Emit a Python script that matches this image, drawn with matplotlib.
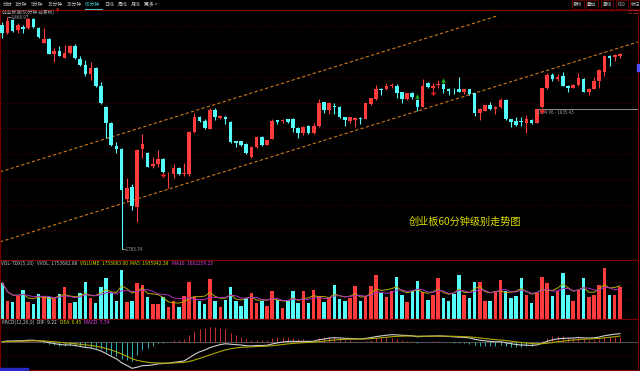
import numpy as np
import pandas as pd
import matplotlib
matplotlib.use('Agg')
import matplotlib.pyplot as plt
from matplotlib.patches import Rectangle
from matplotlib.lines import Line2D

plt.rcParams['font.family'] = ['Noto Sans CJK SC', 'DejaVu Sans']

# 创业板指 60分钟 K线 (open, high, low, close)
opens = [1865.9, 1862.9, 1867.7, 1864.1, 1865.3, 1864.7, 1868.0, 1864.7, 1859.2, 1860.7,
         1855.2, 1856.5, 1853.7, 1855.5, 1858.2, 1853.4, 1851.2, 1847.8, 1850.2, 1843.5,
         1835.9, 1829.8, 1821.6, 1820.4, 1801.9, 1806.3, 1799.2, 1820.3, 1818.8, 1814.2,
         1814.9, 1816.7, 1811.1, 1811.1, 1813.5, 1811.2, 1811.2, 1826.7, 1832.0, 1830.8,
         1827.7, 1834.7, 1831.8, 1832.3, 1830.4, 1823.3, 1823.3, 1822.1, 1817.4, 1821.0,
         1824.9, 1821.9, 1824.1, 1830.9, 1830.6, 1831.3, 1831.3, 1828.2, 1826.2, 1828.8,
         1826.4, 1828.8, 1837.5, 1834.7, 1836.3, 1835.9, 1832.0, 1830.8, 1831.2, 1831.8,
         1831.4, 1836.9, 1838.7, 1842.4, 1842.3, 1843.5, 1843.5, 1841.2, 1838.7, 1840.8,
         1838.4, 1835.9, 1844.5, 1842.9, 1843.8, 1844.1, 1842.4, 1841.8, 1842.3, 1841.3,
         1842.3, 1840.8, 1833.5, 1834.5, 1836.5, 1835.1, 1835.7, 1838.4, 1831.3, 1830.7,
         1830.7, 1830.1, 1831.0, 1830.1, 1835.7, 1842.7, 1847.6, 1846.0, 1847.2, 1843.6,
         1842.9, 1843.9, 1846.1, 1841.2, 1842.4, 1845.4, 1848.8, 1854.5, 1854.1, 1854.5]
highs = [1867.1, 1869.0, 1868.0, 1866.5, 1865.9, 1868.4, 1868.4, 1865.3, 1864.7, 1861.0,
         1857.4, 1858.2, 1858.6, 1858.6, 1858.8, 1854.6, 1853.1, 1852.4, 1850.4, 1845.1,
         1836.2, 1830.4, 1823.1, 1820.7, 1809.6, 1807.6, 1820.3, 1825.9, 1819.4, 1817.6,
         1820.0, 1817.0, 1812.1, 1814.9, 1813.9, 1815.4, 1827.0, 1833.5, 1832.5, 1831.3,
         1835.3, 1835.3, 1832.9, 1832.5, 1830.8, 1823.3, 1823.4, 1822.5, 1821.5, 1825.2,
         1825.2, 1823.7, 1831.3, 1831.0, 1831.3, 1831.5, 1831.7, 1828.6, 1828.8, 1829.2,
         1830.1, 1838.6, 1837.8, 1837.5, 1837.4, 1836.2, 1832.3, 1832.3, 1832.0, 1832.0,
         1837.4, 1839.2, 1843.9, 1842.7, 1844.7, 1844.7, 1844.3, 1841.4, 1841.1, 1841.3,
         1838.6, 1846.1, 1844.9, 1844.5, 1845.7, 1844.7, 1842.7, 1842.7, 1846.7, 1842.4,
         1842.4, 1841.1, 1835.3, 1836.7, 1837.5, 1836.2, 1839.0, 1838.6, 1831.5, 1832.0,
         1832.0, 1832.9, 1831.3, 1835.2, 1842.9, 1848.2, 1848.2, 1847.9, 1848.8, 1843.9,
         1844.1, 1848.2, 1846.3, 1842.7, 1846.9, 1849.7, 1854.9, 1854.9, 1855.2, 1855.5]
lows = [1861.0, 1862.6, 1863.5, 1863.1, 1862.9, 1864.4, 1864.7, 1861.0, 1859.2, 1855.2,
        1852.4, 1854.6, 1853.7, 1855.3, 1853.4, 1851.0, 1847.3, 1845.7, 1843.3, 1836.8,
        1824.3, 1821.6, 1818.8, 1783.74, 1801.1, 1798.0, 1793.5, 1817.0, 1813.7, 1813.3,
        1813.9, 1811.7, 1806.0, 1809.6, 1810.9, 1810.6, 1810.6, 1826.4, 1830.4, 1827.7,
        1827.6, 1831.0, 1831.3, 1829.6, 1822.5, 1821.0, 1821.5, 1818.6, 1817.0, 1820.8,
        1821.5, 1821.8, 1824.0, 1829.6, 1830.1, 1830.1, 1826.7, 1824.5, 1825.5, 1825.9,
        1825.9, 1828.6, 1833.7, 1833.2, 1833.2, 1831.7, 1828.8, 1830.1, 1828.6, 1829.6,
        1831.3, 1836.5, 1838.4, 1840.2, 1842.1, 1842.8, 1839.0, 1837.4, 1838.5, 1838.6,
        1834.5, 1835.7, 1842.7, 1842.1, 1842.7, 1841.1, 1840.2, 1840.6, 1841.2, 1840.5,
        1840.2, 1832.5, 1831.0, 1834.2, 1834.7, 1833.2, 1835.4, 1831.0, 1828.4, 1828.8,
        1828.8, 1826.4, 1829.6, 1829.8, 1835.4, 1842.3, 1845.5, 1845.5, 1843.5, 1841.4,
        1842.7, 1843.6, 1841.2, 1840.2, 1842.3, 1842.7, 1847.2, 1850.9, 1852.8, 1853.7]
closes = [1862.9, 1867.5, 1863.8, 1865.9, 1864.6, 1868.0, 1865.1, 1861.4, 1860.8, 1855.3,
          1856.4, 1854.6, 1855.5, 1858.3, 1853.7, 1851.2, 1847.8, 1850.2, 1843.5, 1837.2,
          1829.8, 1821.9, 1820.4, 1805.4, 1806.2, 1799.5, 1820.0, 1822.2, 1813.9, 1814.9,
          1816.7, 1812.1, 1811.3, 1813.3, 1811.1, 1811.5, 1826.7, 1832.3, 1830.8, 1828.2,
          1834.7, 1832.0, 1832.5, 1831.3, 1823.1, 1822.7, 1821.9, 1819.0, 1821.0, 1824.9,
          1821.9, 1823.6, 1830.8, 1830.4, 1831.0, 1830.4, 1828.0, 1826.2, 1828.6, 1826.2,
          1828.8, 1837.4, 1834.7, 1837.3, 1835.7, 1832.0, 1831.0, 1832.0, 1831.8, 1831.4,
          1837.2, 1839.0, 1842.3, 1842.1, 1843.5, 1843.9, 1840.8, 1838.7, 1840.8, 1839.4,
          1835.9, 1843.6, 1843.0, 1843.5, 1844.1, 1842.4, 1841.8, 1841.6, 1841.4, 1842.3,
          1840.5, 1833.7, 1835.0, 1836.4, 1835.0, 1835.9, 1838.4, 1831.3, 1830.4, 1829.2,
          1830.4, 1831.3, 1830.1, 1835.0, 1842.7, 1847.6, 1846.0, 1846.9, 1843.6, 1842.7,
          1843.9, 1846.6, 1841.4, 1842.4, 1845.4, 1849.4, 1854.5, 1853.7, 1854.9, 1855.3]
# 成交量 (万)
volumes = [200, 102, 96, 126, 163, 96, 83, 139, 126, 120,
           115, 139, 176, 89, 96, 144, 203, 116, 89, 176,
           227, 144, 102, 272, 96, 102, 200, 190, 120, 83,
           83, 120, 65, 102, 68, 126, 203, 120, 102, 83,
           222, 102, 65, 107, 179, 102, 74, 115, 144, 89,
           102, 74, 157, 107, 61, 102, 157, 89, 153, 87,
           161, 129, 92, 120, 190, 111, 98, 115, 185, 102,
           120, 181, 244, 144, 120, 153, 231, 133, 92, 153,
           209, 152, 107, 135, 226, 115, 102, 139, 246, 133,
           116, 203, 207, 98, 102, 153, 218, 157, 115, 129,
           226, 133, 89, 144, 231, 198, 129, 157, 253, 133,
           98, 163, 227, 120, 133, 190, 283, 133, 135, 175]

# 趋势通道 (K线序号, 价格)
channel_upper = ([-0.44, 95.3], [1812.0, 1869.2])
channel_lower = ([-0.44, 122.5], [1786.3, 1859.7])
level_price = 1835.2
level_start = 102.6
buy_marks = [31, 83, 104]
sell_marks = [80, 85]

tabs = ['分时', '1分钟', '5分钟', '15分钟', '30分钟', '60分钟', '日线', '周线', '月线', '更多 >']
tab_x = [3, 15, 31, 48, 67, 85, 104, 118, 131, 144]
buttons = ['复权', '叠加', '画线', 'F10', '标记']
button_x = [572, 586, 601, 616, 630]

W, H = 640, 371
fig = plt.figure(figsize=(W / 100, H / 100), dpi=100, facecolor='black')


def panel(top, bottom, left=0, right=638):
    a = fig.add_axes([left / W, 1 - bottom / H, (right - left) / W, (bottom - top) / H])
    a.set_facecolor('black')
    a.set_xticks([])
    a.set_yticks([])
    for s in a.spines.values():
        s.set_color('#7a0000')
        s.set_linewidth(0.8)
    a.set_xlim(-0.443, 122.49)
    return a


def hgrid(a, fracs, color='#3a0000'):
    for f in fracs:
        a.plot([0, 1], [f, f], transform=a.transAxes, color=color, lw=0.6,
               ls=(0, (2, 2)), zorder=0)


ax = panel(10, 260)
axv = panel(260, 319)
axm = panel(319, 370)
axv.spines['bottom'].set_color('#b00000')

n = len(closes)
x = np.arange(n)
o, h, l, c = (np.array(v) for v in (opens, highs, lows, closes))
RED, CYAN = '#ff3b3b', '#54fcfc'
col = np.where(c >= o, RED, CYAN)

# 主图
ax.set_ylim(1779.66, 1871.41)
hgrid(ax, [(260 - y) / 250 for y in [26, 51.5, 77, 102.5, 128, 153.5, 179, 204.5, 230]])
ax.vlines(x, l, h, colors=col, lw=0.8, zorder=2)
ax.bar(x, np.maximum(np.abs(c - o), 0.25), bottom=np.minimum(o, c), width=0.7,
       color=col, linewidth=0, zorder=3)
ax.plot(*channel_upper, color='#c8781e', lw=0.8, ls=(0, (3, 2)), zorder=1)
ax.plot(*channel_lower, color='#c8781e', lw=0.8, ls=(0, (3, 2)), zorder=1)
ax.hlines(level_price, level_start, 122.49, color='#8c8c8c', lw=0.7, zorder=1)
ax.annotate('1834.96 - 1835.43', xy=(level_start, level_price), xytext=(1.5, -2.7),
            textcoords='offset points', color='#9a9a9a', fontsize=3.3, va='center', ha='left')
ax.plot(buy_marks, l[buy_marks] - 1.0, ls='none', marker='P', ms=3.2, color='#ff2020',
        mew=0, zorder=4)
ax.plot(sell_marks, h[sell_marks] + 1.1, ls='none', marker='^', ms=3.2, color='#20b020',
        mew=0, zorder=4)
ax.annotate('←1868.97', xy=(1, h[1]), xytext=(0.3, -0.8), textcoords='offset points',
            color='#a8a8a8', fontsize=3.3, va='center', ha='left', zorder=5)
ax.annotate('←1783.74', xy=(int(np.argmin(l)), l.min()), xytext=(0.3, -0.8),
            textcoords='offset points', color='#a8a8a8', fontsize=3.3, va='center', ha='left')
fig.text(409 / W, 1 - 222 / H, '创业板60分钟级别走势图', color='#dcdc00', fontsize=7.3,
         va='center', ha='left')

# 成交量
vol = pd.Series(volumes, dtype=float)
axv.set_ylim(0, 327)
hgrid(axv, [(319 - 282) / 59, (319 - 300) / 59])
axv.bar(x, vol, width=0.68, color=col, linewidth=0, zorder=2)
axv.plot(x, vol.rolling(5, min_periods=1).mean(), color='#b4aa00', lw=0.7, zorder=3)
axv.plot(x, vol.rolling(10, min_periods=1).mean(), color='#b030c0', lw=0.7, zorder=3)

# MACD
s = pd.Series(closes)
dif = s.ewm(span=12, adjust=False).mean() - s.ewm(span=26, adjust=False).mean()
dea = dif.ewm(span=9, adjust=False).mean()
hist = 2 * (dif - dea)
m = min(dif.min(), dea.min())
R = -m / 0.522
axm.set_ylim(-0.555 * R, 0.445 * R)
hgrid(axm, [(370 - 329) / 51, (370 - 355) / 51])
axm.axhline(0, color='#505050', lw=0.8, zorder=1)
axm.vlines(x, 0, hist, colors=np.where(hist >= 0, '#c83030', '#30b4b4'), lw=0.7, zorder=2)
axm.plot(x, dif, color='#d0d0d0', lw=0.8, zorder=3)
axm.plot(x, dea, color='#b0a800', lw=0.8, zorder=3)


def chain(a, x_px, y_px, parts, size=3.5, gap=2.0):
    prev = None
    for txt, colr in parts:
        if prev is None:
            prev = a.text(x_px / W, 1 - y_px / H, txt, transform=fig.transFigure, color=colr,
                          fontsize=size, va='center', ha='left', clip_on=False)
        else:
            prev = a.annotate(txt, xy=(1, 0.5), xycoords=prev, xytext=(gap, 0),
                              textcoords='offset points', color=colr, fontsize=size,
                              va='center', ha='left')


chain(axv, 1, 263.5, [('VOL-TDX(5,10)', '#c0c0c0'), ('VVOL: 1753682.88', '#c0c0c0'),
                      ('VOLUME: 1753683.00', '#d8d800'), ('MA5: 1935942.38', '#d8d800'),
                      ('MA10: 1662259.25', '#e040e0')])
chain(axm, 1, 322, [('MACD(12,26,9)', '#c0c0c0'), ('DIF: 9.22', '#e0e0e0'),
                    ('DEA: 6.45', '#d8d800'), ('MACD: 5.54', '#e040e0')])

# 顶部工具栏
for t, tx in zip(tabs, tab_x):
    fig.text(tx / W, 1 - 4.5 / H, t, color='#40c8c8' if t == '60分钟' else '#c4c4c4',
             fontsize=3.5, va='center', ha='left')
fig.add_artist(Line2D([85 / W, 102 / W], [1 - 8.6 / H] * 2, color='#40c8c8', lw=0.8))
for b, bx in zip(buttons, button_x):
    fig.add_artist(Rectangle((bx / W, 1 - 8.5 / H), 11.5 / W, 8 / H, transform=fig.transFigure,
                             fill=False, edgecolor='#700000', lw=0.6))
    fig.text((bx + 5.75) / W, 1 - 4.5 / H, b, color='#c4c4c4', fontsize=3.3,
             va='center', ha='center')
fig.add_artist(Line2D([0, 1], [1 - 10 / H] * 2, color='#800000', lw=0.8))
fig.text(2 / W, 1 - 12.5 / H, '创业板指(60分钟 前复权)', color='#b0b0b0', fontsize=3.4,
         va='center', ha='left')
fig.text(55 / W, 1 - 11.5 / H, '↑', color='#ff2020', fontsize=4, va='center', ha='left',
         fontweight='bold')
fig.text(628 / W, 1 - 12.5 / H, '○ ▢', color='#c03030', fontsize=3.2, va='center', ha='left')
fig.add_artist(Rectangle((0, 0), 28 / W, 3 / H, transform=fig.transFigure, color='#2828c8'))
fig.add_artist(Rectangle((637 / W, 1 - 71 / H), 3 / W, 7 / H, transform=fig.transFigure,
                         color='#5050ff'))

fig.savefig('out.png', dpi=100, facecolor='black')
